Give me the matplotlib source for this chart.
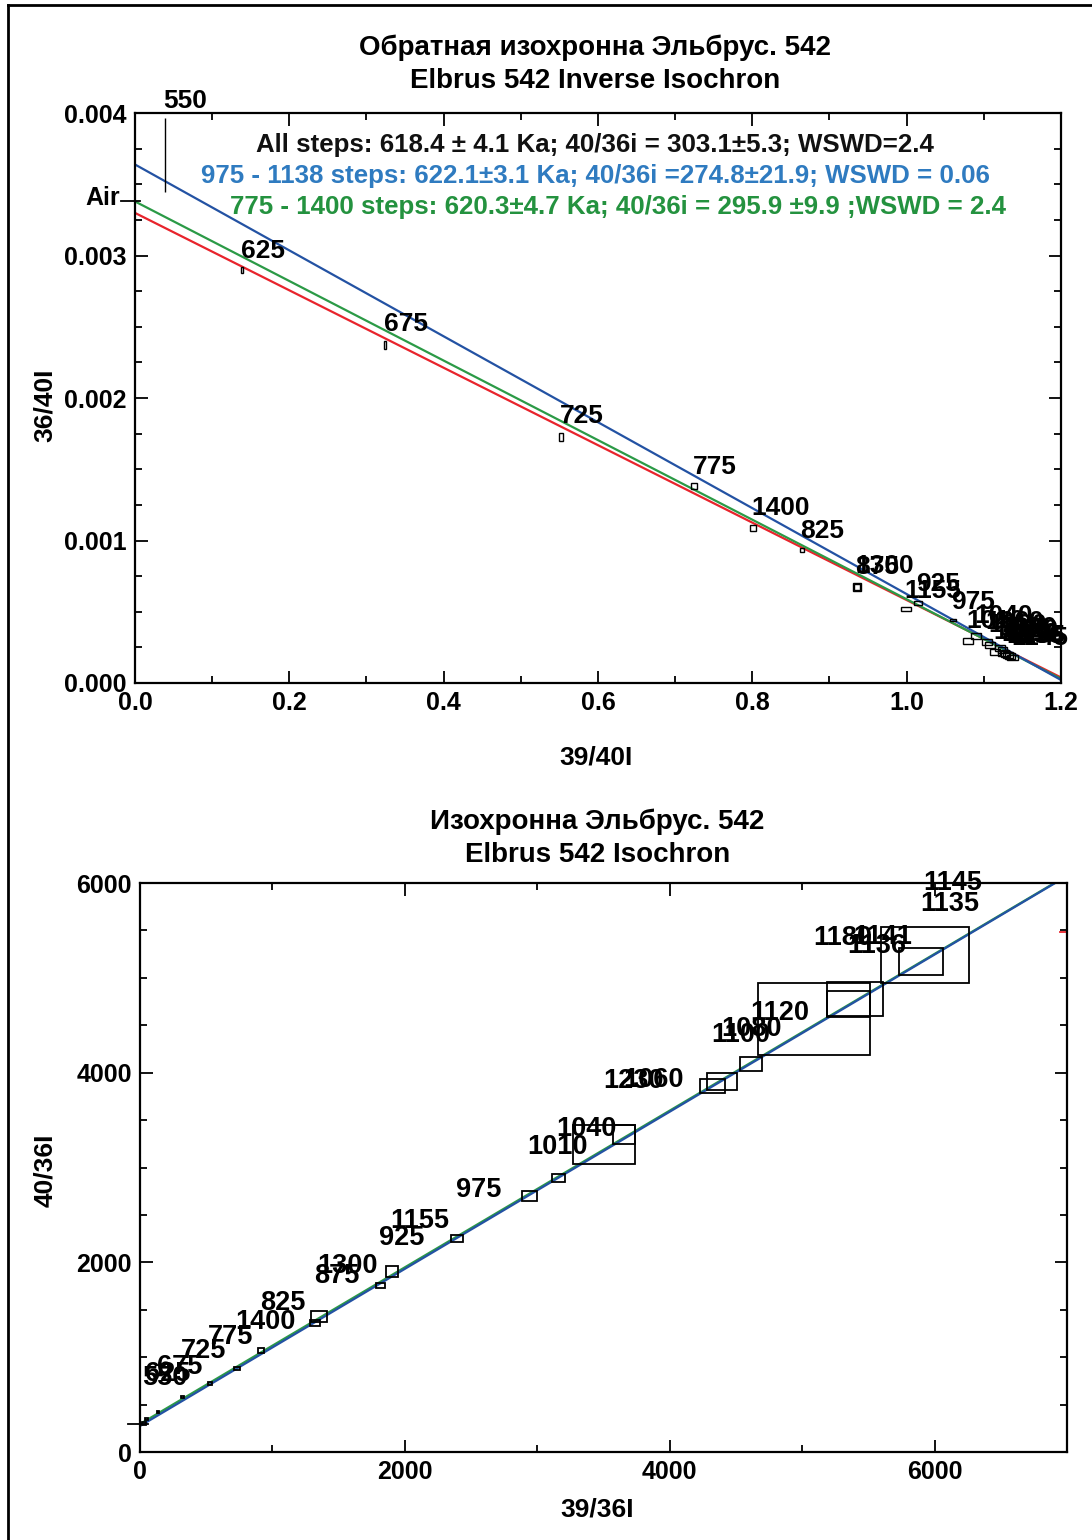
import numpy as np
import matplotlib
matplotlib.use('Agg')
import matplotlib.pyplot as plt
from matplotlib.patches import Rectangle
from matplotlib.ticker import MultipleLocator, FormatStrFormatter
from matplotlib.lines import Line2D

plt.rcParams['font.family'] = ['Liberation Sans', 'DejaVu Sans']

# inverse isochron: 39/40 vs 36/40
inv_steps = ['550', '625', '675', '725', '775', '1400', '825', '1300', '875', '1155', '925', '975',
             '1010', '1040', '1060', '1230', '1100', '1080', '1120', '1180', '1141', '1136', '1135', '1145']
inv_x = [0.0389, 0.1387, 0.324, 0.552, 0.7244, 0.8008, 0.8643, 0.9356, 0.9356, 0.9991, 1.0147, 1.060,
         1.0794, 1.0898, 1.104, 1.108, 1.1145, 1.121, 1.124, 1.125, 1.128, 1.1314, 1.134, 1.137]
inv_y = [0.003705, 0.002898, 0.002372, 0.001726, 0.001382, 0.001088, 0.000933, 0.000674, 0.000674,
         0.000519, 0.000561, 0.000442, 0.000295, 0.00033, 0.000288, 0.000267, 0.000218, 0.000246,
         0.000232, 0.00021, 0.000204, 0.000196, 0.00019, 0.000178]
inv_ex = [0.0003, 0.001, 0.001, 0.003, 0.004, 0.004, 0.003, 0.005, 0.004, 0.006, 0.005, 0.004,
          0.007, 0.006, 0.006, 0.007, 0.006, 0.007, 0.006, 0.007, 0.006, 0.007, 0.006, 0.007]
inv_ey = [0.00026, 0.00002, 0.00003, 0.00003, 0.00002, 0.00002, 0.000015, 0.00003, 0.00002,
          0.000012, 0.000015, 0.00001, 0.00002, 0.00002, 0.00002, 0.00002, 0.00002, 0.00002,
          0.00002, 0.00002, 0.00002, 0.00002, 0.00002, 0.00002]

# fitted lines: 40/36 intercept and 39/40 intercept
fit_names = ['all', '975-1138', '775-1400']
fit_i4036 = [303.1, 274.8, 295.9]
fit_xint = [1.2142, 1.207, 1.2105]
fit_colors = ['#e8242c', '#2352a3', '#2b9a46']
fit_text = ['All steps: 618.4 ± 4.1 Ka; 40/36i = 303.1±5.3; WSWD=2.4',
            '975 - 1138 steps: 622.1±3.1 Ka; 40/36i =274.8±21.9; WSWD = 0.06',
            '775 - 1400 steps: 620.3±4.7 Ka; 40/36i = 295.9 ±9.9 ;WSWD = 2.4']
text_colors = ['#111111', '#2f7bc0', '#24923f']
air = 295.5

# normal isochron: 39/36 vs 40/36
iso_steps = ['550', '625', '675', '725', '775', '1400', '825', '875', '1300', '925', '1155', '975',
             '1010', '1040', '1230', '1060', '1100', '1080', '1120', '1180', '1141', '1136', '1135', '1145']
iso_x = [30, 48, 137, 320, 525, 733, 914, 1322, 1352, 1813, 1903, 2394,
         2938, 3157, 3505, 3656, 4324, 4396, 4615, 5091, 5398, 5352, 5899, 5927]
iso_y = [300, 345, 420, 580, 725, 886, 1075, 1360, 1434, 1761, 1909, 2257,
         2700, 2889, 3243, 3348, 3860, 3907, 4091, 4568, 4779, 4728, 5170, 5241]
iso_ex = [15, 10, 10, 12, 15, 22, 22, 37, 60, 34, 49, 42,
          57, 49, 234, 83, 94, 113, 83, 425, 209, 164, 164, 331]
iso_ey = [15, 10, 10, 12, 15, 16, 26, 32, 58, 26, 58, 37,
          53, 46, 206, 102, 74, 90, 74, 382, 181, 137, 140, 292]
red_mark = 5484

fig = plt.figure(figsize=(10.92, 15.40), dpi=100)

# frame around the page
fig.add_artist(Line2D([0.0073, 0.0073], [0.0, 0.9968], transform=fig.transFigure, color='black', lw=2))
fig.add_artist(Line2D([0.0073, 1.0], [0.9968, 0.9968], transform=fig.transFigure, color='black', lw=2))


def style_axes(ax):
    for s in ax.spines.values():
        s.set_linewidth(1.6)
    ax.tick_params(which='both', direction='in', top=True, right=True, width=1.3,
                   labelsize=18)
    ax.tick_params(which='major', length=9, pad=6)
    ax.tick_params(which='minor', length=5)
    for lab in ax.get_xticklabels() + ax.get_yticklabels():
        lab.set_fontweight('bold')


# ---------- top: inverse isochron ----------
ax1 = fig.add_axes([0.1236, 0.5565, 0.848, 0.3701])
xs = np.linspace(0, 1.25, 200)
for i in [0, 2, 1]:
    a = 1.0 / fit_i4036[i]
    ax1.plot(xs, a * (1 - xs / fit_xint[i]), color=fit_colors[i], lw=1.6)

for x, y, ex, ey, s in zip(inv_x, inv_y, inv_ex, inv_ey, inv_steps):
    ax1.add_patch(Rectangle((x - ex, y - ey), 2 * ex, 2 * ey, fill=False, ec='black', lw=1.0, zorder=3))
    ax1.annotate(s, (x, y + ey), xytext=(-1, 12), textcoords='offset points',
                 ha='left', va='center', fontsize=19, fontweight='bold', zorder=4)

ax1.plot([-0.018, 0.007], [1 / air, 1 / air], color='black', lw=1.3, clip_on=False)
ax1.annotate('Air', (-0.018, 1 / air), xytext=(-1, 2), textcoords='offset points',
             ha='right', va='center', fontsize=18, fontweight='bold', annotation_clip=False)

ax1.set_xlim(0, 1.2)
ax1.set_ylim(0, 0.004)
ax1.xaxis.set_major_locator(MultipleLocator(0.2))
ax1.xaxis.set_minor_locator(MultipleLocator(0.1))
ax1.yaxis.set_major_locator(MultipleLocator(0.001))
ax1.yaxis.set_minor_locator(MultipleLocator(0.00025))
ax1.xaxis.set_major_formatter(FormatStrFormatter('%.1f'))
ax1.yaxis.set_major_formatter(FormatStrFormatter('%.3f'))
style_axes(ax1)

fig.text(0.545, 0.9693, 'Обратная изохронна Эльбрус. 542', ha='center', va='center',
         fontsize=20, fontweight='bold')
fig.text(0.545, 0.9472, 'Elbrus 542 Inverse Isochron', ha='center', va='center',
         fontsize=20, fontweight='bold')
for t, c, xc, yc in zip(fit_text, text_colors, [0.545, 0.545, 0.566], [0.9058, 0.8857, 0.8656]):
    fig.text(xc, yc, t, ha='center', va='center', fontsize=18.6, fontweight='bold', color=c)
fig.text(0.546, 0.5084, '39/40I', ha='center', va='center', fontsize=19, fontweight='bold')
fig.text(0.0412, 0.737, '36/40I', ha='center', va='center', rotation=90, fontsize=19, fontweight='bold')

# ---------- bottom: isochron ----------
ax2 = fig.add_axes([0.1282, 0.0571, 0.8489, 0.3695])
xb = np.linspace(0, 7000, 200)
for i in [2, 1]:
    ax2.plot(xb, fit_i4036[i] + xb / fit_xint[i], color=fit_colors[i], lw=1.6)

for x, y, ex, ey, s in zip(iso_x, iso_y, iso_ex, iso_ey, iso_steps):
    ax2.add_patch(Rectangle((x - ex, y - ey), 2 * ex, 2 * ey, fill=False, ec='black', lw=1.3, zorder=3))
    ax2.annotate(s, (x, y + ey), xytext=(-1, 32), textcoords='offset points',
                 ha='left', va='center', fontsize=19.5, fontweight='bold', zorder=4)

ax2.plot([-90, 60], [air, air], color='black', lw=1.3, clip_on=False)
ax2.plot([6950, 7000], [red_mark, red_mark], color='#e8242c', lw=1.3)

ax2.set_xlim(0, 7000)
ax2.set_ylim(0, 6000)
ax2.xaxis.set_major_locator(MultipleLocator(2000))
ax2.xaxis.set_minor_locator(MultipleLocator(1000))
ax2.yaxis.set_major_locator(MultipleLocator(2000))
ax2.yaxis.set_minor_locator(MultipleLocator(500))
style_axes(ax2)

fig.text(0.547, 0.4662, 'Изохронна Эльбрус. 542', ha='center', va='center',
         fontsize=20, fontweight='bold')
fig.text(0.547, 0.4448, 'Elbrus 542 Isochron', ha='center', va='center',
         fontsize=20, fontweight='bold')
fig.text(0.547, 0.0195, '39/36I', ha='center', va='center', fontsize=19, fontweight='bold')
fig.text(0.0412, 0.2403, '40/36I', ha='center', va='center', rotation=90, fontsize=19, fontweight='bold')

fig.savefig('out.png', dpi=100)
